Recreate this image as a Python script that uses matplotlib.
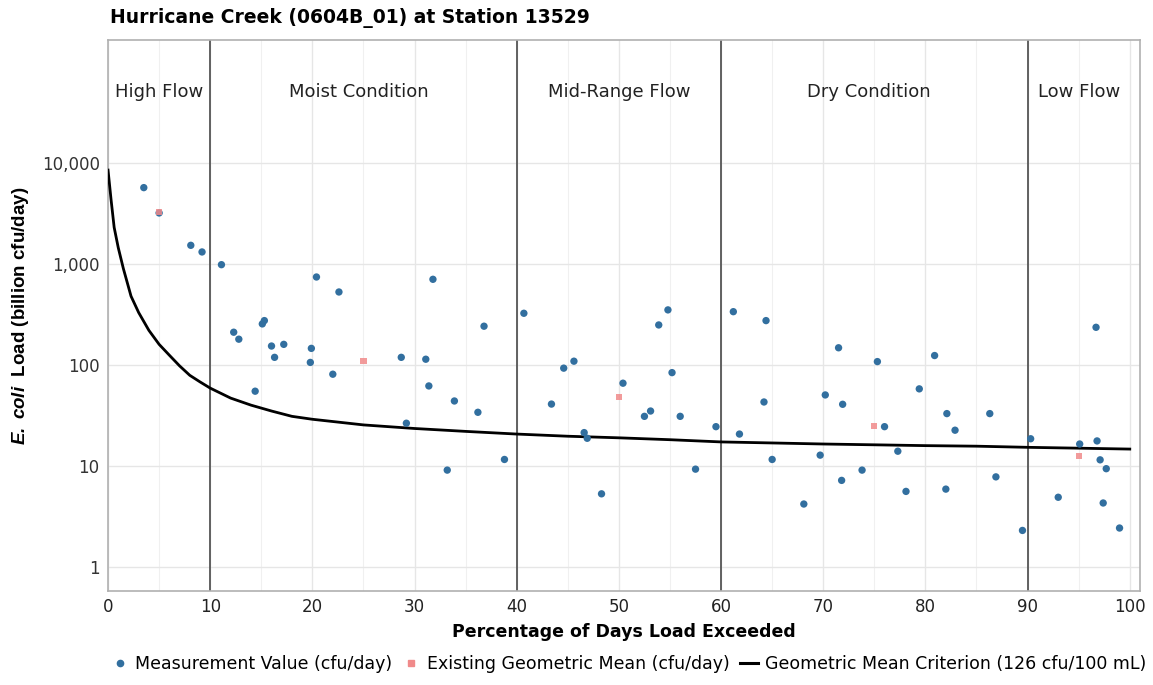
import matplotlib
matplotlib.use("Agg")
import matplotlib.pyplot as plt
from matplotlib.ticker import FixedLocator, FuncFormatter
from matplotlib.lines import Line2D

plt.rcParams['font.family'] = ['DejaVu Sans']
plt.rcParams['mathtext.fontset'] = 'custom'
plt.rcParams['mathtext.rm'] = 'Liberation Sans'
plt.rcParams['mathtext.it'] = 'Liberation Sans:italic'
plt.rcParams['mathtext.bf'] = 'Liberation Sans:bold'
plt.rcParams['mathtext.bfit'] = 'Liberation Sans:italic:bold'

# Measurement values (percent exceeded, load billion cfu/day)
meas_x = [3.5, 5.0, 8.1, 9.2, 11.1, 12.3, 12.8, 15.1, 15.3, 14.4, 16.0, 16.3, 17.2,
          19.9, 19.8, 20.4, 22.0, 22.6, 28.7, 29.2, 31.1, 31.4, 31.8, 33.2, 33.9,
          36.2, 36.8, 38.8, 40.7, 43.4, 44.6, 45.6, 46.6, 46.9, 48.3, 50.4, 52.5,
          53.1, 53.9, 54.8, 55.2, 56.0, 57.5, 59.5, 61.2, 61.8, 64.2, 64.4, 65.0,
          68.1, 69.7, 70.2, 71.5, 71.8, 71.9, 73.8, 75.3, 76.0, 77.3, 78.1, 79.4,
          80.9, 82.0, 82.1, 82.9, 86.3, 86.9, 89.5, 90.3, 93.0, 95.1, 96.7, 96.8,
          97.1, 97.4, 97.7, 99.0]
meas_y = [5700, 3200, 1530, 1315, 984, 211, 180, 255, 275, 55, 154, 119, 160,
          146, 106, 743, 81, 528, 119, 26.5, 114, 62, 705, 9.1, 44,
          34, 242, 11.6, 325, 41, 93, 109, 21.4, 18.8, 5.3, 66, 31,
          35, 249, 351, 84, 31, 9.3, 24.5, 337, 20.7, 43, 275, 11.6,
          4.2, 12.8, 50.5, 148, 7.2, 40.8, 9.1, 108, 24.5, 14, 5.6, 58,
          124, 5.9, 33, 22.6, 33, 7.8, 2.3, 18.6, 4.9, 16.5, 236, 17.7,
          11.5, 4.3, 9.4, 2.43]

# Existing geometric mean per flow regime
geo_x = [5, 25, 50, 75, 95]
geo_y = [3250, 109, 48.5, 25, 12.6]

# Geometric mean criterion load duration curve
crit_x = [0, 0.3, 0.6, 1.0, 1.5, 2.25, 3, 4, 5, 6, 7, 8, 9, 10, 12, 14, 16, 18, 20,
          25, 30, 35, 40, 45, 50, 55, 60, 65, 70, 75, 80, 85, 90, 95, 100]
crit_y = [8500, 4300, 2300, 1450, 900, 480, 330, 220, 160, 125, 98, 79, 68, 59, 47,
          40, 35, 31, 29, 25.5, 23.5, 22, 20.7, 19.7, 19, 18.2, 17.3, 16.9, 16.5,
          16.2, 15.9, 15.7, 15.3, 15.0, 14.7]

zone_bounds = [10, 40, 60, 90]
zone_labels = ["High Flow", "Moist Condition", "Mid-Range Flow", "Dry Condition", "Low Flow"]
zone_centers = [5, 24.5, 50, 74.5, 95]

y_ticks = [1, 10, 100, 1000, 10000]
x_ticks = [0, 10, 20, 30, 40, 50, 60, 70, 80, 90, 100]

fig = plt.figure(figsize=(11.53, 6.85), dpi=100)
ax = fig.add_axes([0.0937, 0.1372, 0.8950, 0.8044])
ax.set_yscale('log')
ax.set_xlim(0, 101)
ax.set_ylim(0.578, 165000)

ax.set_xticks(x_ticks)
ax.xaxis.set_minor_locator(FixedLocator([5, 15, 25, 35, 45, 55, 65, 75, 85, 95]))
ax.yaxis.set_major_locator(FixedLocator(y_ticks))
ax.yaxis.set_minor_locator(FixedLocator([]))
ax.yaxis.set_major_formatter(FuncFormatter(lambda v, p: f"{int(round(v)):,}"))
ax.grid(True, which='major', color='#e6e6e6', linewidth=1.0)
ax.grid(True, which='minor', axis='x', color='#f0f0f0', linewidth=0.8)
ax.set_axisbelow(True)
ax.tick_params(axis='both', which='both', length=0, labelsize=12, colors='#333333', pad=6)
ax.tick_params(axis='x', labelcolor='#222222', pad=5)
for s in ax.spines.values():
    s.set_color('#b0b0b0')
    s.set_linewidth(1.2)

for b in zone_bounds:
    ax.axvline(b, color='#555555', linewidth=1.3, zorder=2)
for c, lab in zip(zone_centers, zone_labels):
    ax.text(c, 50000, lab, ha='center', va='center', fontsize=13, color='#222222')

ax.plot(crit_x, crit_y, color='black', linewidth=2.0, zorder=3)
ax.scatter(meas_x, meas_y, s=28, color='#326f9f', edgecolors='none', zorder=4)
ax.scatter(geo_x, geo_y, s=20, marker='s', color='#f08a8a', edgecolors='none', zorder=5, alpha=0.85)

ax.set_xlabel("Percentage of Days Load Exceeded", fontsize=12.5, fontweight='bold', labelpad=5)
ax.set_ylabel(r"$\mathbfit{E.\ coli}$  Load (billion cfu/day)", fontsize=13.5, fontweight='bold',
              family=['Liberation Sans', 'DejaVu Sans'], labelpad=8)
fig.text(0.095, 0.973, "Hurricane Creek (0604B_01) at Station 13529", fontsize=13.5,
         fontweight='bold', ha='left', va='center')

handles = [
    Line2D([], [], marker='o', linestyle='none', color='#326f9f', markersize=4.5),
    Line2D([], [], marker='s', linestyle='none', color='#f08a8a', markersize=4),
    Line2D([], [], color='black', linewidth=2.2),
]
labels = ["Measurement Value (cfu/day)", "Existing Geometric Mean (cfu/day)",
          "Geometric Mean Criterion (126 cfu/100 mL)"]
fig.legend(handles, labels, loc='center', bbox_to_anchor=(0.545, 0.031), ncol=3,
           frameon=False, fontsize=12.5, handlelength=1.0, handletextpad=0.4,
           columnspacing=0.6)

fig.savefig("out.png", dpi=100)
